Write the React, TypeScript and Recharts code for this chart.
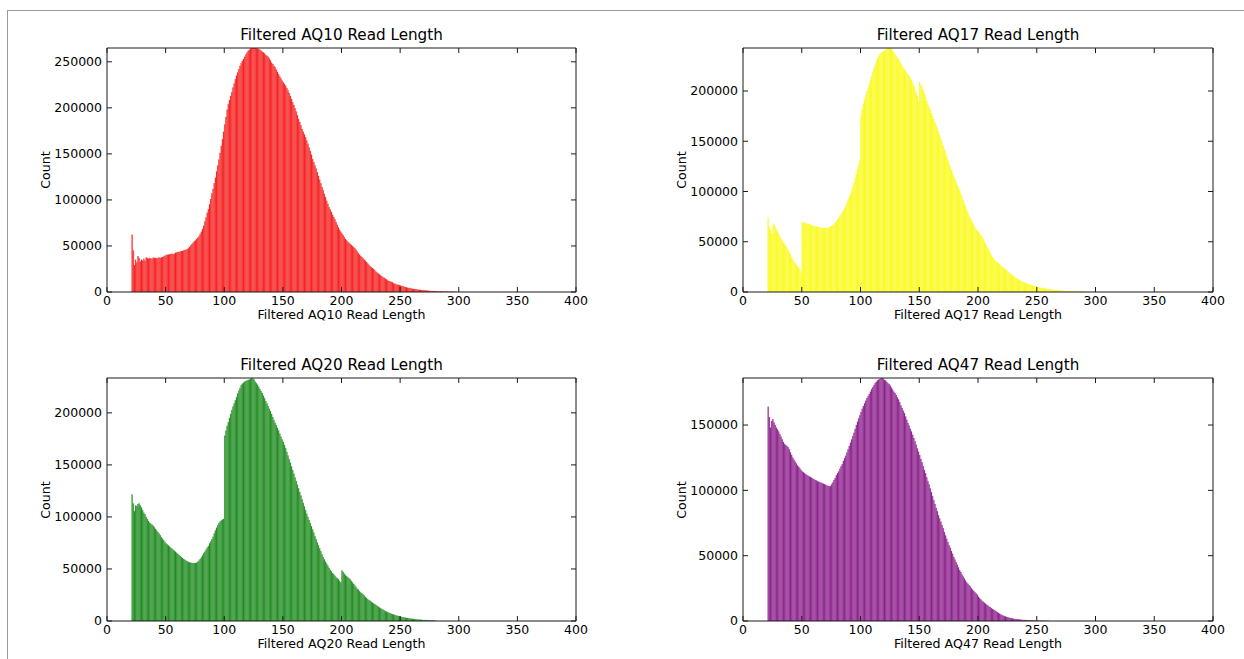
import React from 'react';
import { BarChart, Bar, XAxis, YAxis } from 'recharts';

// Read lengths start at 21; counts are in thousands, one value per 1-bp bin
const aq10Start = 21;
const aq10Counts = [
  62.3, 45, 29, 35, 32, 39, 37, 33, 35, 34,
  36, 34, 37.5, 37, 36, 37, 36.5, 36, 37.5, 37,
  37, 36.5, 37, 37.5, 37, 37.5, 38, 38.5, 39.5, 40,
  40.5, 40.5, 41, 41, 41.5, 41, 41.5, 42.5, 43, 43.5,
  43.5, 44, 44.5, 44.5, 45, 45.5, 46, 46.5, 47.5, 49,
  50.5, 52, 53.5, 55, 56, 57.5, 59, 60.5, 63, 65.5,
  68.5, 72, 76.5, 81, 86, 90, 95, 101, 107, 112,
  118, 124, 131, 137.5, 144, 151, 158.5, 166, 174, 182,
  190, 198, 204, 208.5, 213, 217, 222, 226.5, 231, 235,
  238.5, 242, 245.5, 248.5, 251, 253, 255.5, 258, 260, 262,
  263, 264.5, 265, 265, 265, 265, 264.5, 264.5, 264, 263,
  262, 261, 260, 259, 257.5, 256.5, 255.5, 253.5, 251.5, 249,
  247.5, 245.5, 244, 241.5, 239, 236.5, 234, 232, 229.5, 227.5,
  226, 224, 221.5, 219, 216, 213, 209.5, 206, 203, 199.5,
  196, 192, 188, 184.5, 181, 177, 174, 171, 168, 164.5,
  161, 157, 153, 149, 144.5, 141, 137.5, 134, 130, 126,
  122, 118, 114, 110.5, 106.5, 103, 99, 95.5, 92, 89.5,
  87, 84, 81.5, 79, 76, 73, 70, 67.5, 65.5, 63.5,
  61.5, 59.5, 57.5, 56, 54.5, 53.5, 52, 51, 50, 48.5,
  47.5, 46, 44, 42, 40.5, 39, 38, 36.5, 35, 34,
  32.5, 31, 29.5, 28, 27, 26, 25, 23.5, 22, 21,
  20, 19, 18, 17, 16, 15.5, 14.5, 13.5, 12.5, 12,
  11.5, 11, 10.5, 9.5, 9, 8.5, 8, 7.8, 7.4, 7,
  6.6, 6.2, 5.8, 5.4, 5, 4.7, 4.4, 4.1, 3.8, 3.5,
  3.3, 3.1, 2.9, 2.7, 2.5, 2.35, 2.2, 2.05, 1.9, 1.8,
  1.65, 1.5, 1.4, 1.3, 1.2, 1.1, 1.0, 0.95, 0.85, 0.8,
  0.72, 0.65, 0.6, 0.55, 0.5, 0.45, 0.4, 0.36, 0.33, 0.3,
  0.26, 0.23, 0.2, 0.17, 0.15, 0.12, 0.1,
];

const aq17Start = 21;
const aq17Counts = [
  74, 65, 62, 58, 66, 67.5, 65, 62, 60, 58,
  56, 53, 51, 49, 47.5, 46, 44, 41.5, 39.5, 37,
  34.5, 32, 30, 28.5, 27, 25.5, 24, 22.5, 19, 69.5,
  69, 68.5, 68.3, 68, 67.7, 67.5, 67, 66.5, 66, 65.5,
  65.2, 65, 64.7, 64.4, 64.2, 64, 63.8, 63.7, 63.6, 63.6,
  63.7, 64, 64.3, 65, 65.7, 66.5, 67.5, 68.8, 70.3, 72,
  73.7, 75.5, 77.5, 79, 81, 83.5, 86, 89, 91.5, 94.5,
  97.5, 101, 104.5, 108.5, 113, 117.5, 122, 126.5, 131, 175.5,
  182, 187, 191.5, 195.5, 199.5, 203.5, 207, 211, 215, 219,
  222.5, 226, 229, 232, 234.5, 236.5, 237.5, 238.5, 239.5, 240.3,
  241, 241.8, 242.5, 242.8, 242.3, 241.5, 240, 238.5, 236.5, 234.5,
  233, 231.5, 229.5, 227, 225, 223, 221.5, 220, 218, 216.5,
  215, 213, 210.5, 208, 205, 202, 198.5, 195, 189, 209,
  206, 204, 201, 197.5, 194, 190.5, 187, 184, 181, 178,
  175, 172, 169, 166, 163, 159.5, 156, 152.5, 149, 145.5,
  142, 138.5, 135, 131, 127.5, 124.5, 121.5, 118.5, 115.5, 112.5,
  109.5, 106.5, 104, 101, 98, 95, 91.5, 88, 85, 82,
  79, 76, 74, 71.5, 69, 67, 64.5, 62.5, 61, 60,
  58, 56.5, 55, 53, 50.5, 48, 46, 43.5, 41, 39,
  36.5, 34.5, 33, 31.5, 30.5, 29.5, 28.5, 27.5, 26.5, 25.5,
  24.5, 23.5, 22.5, 21.5, 20.5, 19.5, 18.5, 17.5, 16.5, 15.5,
  14.8, 14, 13.2, 12.5, 11.8, 11.2, 10.6, 10, 9.5, 9,
  8.5, 8, 7.6, 7.2, 6.8, 6.4, 6, 5.7, 5.4, 5.1,
  4.8, 4.5, 4.2, 4, 3.7, 3.5, 3.3, 3.1, 2.9, 2.7,
  2.5, 2.35, 2.2, 2.05, 1.9, 1.75, 1.6, 1.5, 1.4, 1.3,
  1.2, 1.1, 1.0, 0.93, 0.86, 0.8, 0.74, 0.68, 0.62, 0.57,
  0.52, 0.47, 0.43, 0.39, 0.35, 0.32, 0.29, 0.26, 0.23, 0.2,
];

const aq20Start = 21;
const aq20Counts = [
  121.5, 113, 105.5, 111, 110.5, 112.5, 113, 111, 109, 106.5,
  104, 102.5, 100, 98, 96, 94.5, 93.5, 92.5, 91.5, 90,
  88.5, 87, 85.5, 84, 82.5, 80.5, 79, 77.5, 76, 74.5,
  73.5, 72.5, 71.5, 70.5, 69.5, 68.5, 67.5, 66.5, 65.5, 64.5,
  63.5, 62.5, 61.5, 60.5, 59.5, 58.8, 58, 57.3, 56.8, 56.3,
  56, 55.8, 55.6, 55.6, 55.7, 56, 57, 58, 59.5, 61,
  63, 65, 66.5, 68.5, 70.5, 72, 74.5, 76.5, 78.5, 81,
  84, 87, 89.5, 92, 94, 95.5, 96.5, 97.3, 98, 178,
  183, 187.5, 191, 195, 199, 202.5, 206, 209, 212, 215,
  218.5, 221.5, 224, 226.5, 228, 229, 230, 230.5, 231, 231.5,
  232, 232.5, 233.5, 233, 232, 230, 228.5, 227, 225, 223,
  221, 219, 216.5, 214, 211.5, 209, 206.5, 204, 201.5, 199,
  196, 193, 190.5, 188, 185.5, 183, 180, 177, 174.5, 172,
  169, 166, 162.5, 159, 155.5, 152, 148.5, 145, 141.5, 138,
  134.5, 131, 127.5, 124, 120.5, 117, 113.5, 110, 106.5, 103,
  100, 97, 94, 91, 88, 85, 81.5, 78.5, 75.5, 72.5,
  70, 67, 64, 61.5, 59, 57, 55, 53, 51, 49,
  47.5, 46, 45, 43.5, 42, 41, 40, 38.5, 37, 48.5,
  47, 45.5, 44, 43, 42, 41, 40, 38.5, 37, 35.5,
  34, 32.5, 31, 30, 28.5, 27.5, 26.5, 25.5, 24.5, 23,
  22, 21, 20, 19.5, 18.5, 17.5, 16.8, 16, 15.3, 14.5,
  13.7, 13, 12.2, 11.5, 10.8, 10.2, 9.6, 9, 8.5, 8,
  7.5, 7, 6.6, 6.2, 5.8, 5.4, 5.1, 4.8, 4.5, 4.2,
  3.9, 3.6, 3.4, 3.2, 3, 2.8, 2.6, 2.4, 2.2, 2.05,
  1.9, 1.75, 1.6, 1.5, 1.4, 1.3, 1.2, 1.1, 1.0, 0.92,
  0.84, 0.76, 0.68, 0.6, 0.54, 0.48, 0.42, 0.37, 0.32, 0.28,
];

const aq47Start = 21;
const aq47Counts = [
  164, 156, 148, 153, 154.5, 152, 150, 148, 146.5, 145,
  143, 141, 139, 137, 135.5, 134.5, 134, 133, 131.5, 129,
  127, 125, 123.5, 122, 120.5, 119, 118, 117, 115.5, 114.5,
  113.8, 113, 112.3, 111.7, 111.2, 110.7, 110.2, 109.6, 109, 108.5,
  108, 107.6, 107, 106.6, 106.2, 105.8, 105.4, 105, 104.6, 104.2,
  103.8, 103.3, 103, 103.2, 104.5, 106, 108, 109.5, 111.5, 113,
  114.5, 116.5, 118.5, 120, 122.5, 124.5, 126.5, 129, 131.5, 134,
  136.5, 139, 141.5, 144, 147, 150, 152.5, 155, 157.5, 160,
  162.5, 164.5, 166.5, 168.5, 170.5, 172, 173.7, 175.5, 177.3, 179,
  180.5, 182, 183, 184, 184.7, 185.3, 185.8, 186, 185.5, 184.5,
  184, 183, 182, 181.3, 180, 178.5, 177, 175.5, 174.5, 173,
  171, 169.5, 167.5, 165, 163, 161, 159, 156.5, 154, 151.5,
  149.5, 147, 145, 142.5, 140, 137.5, 135, 132, 129.5, 127,
  124, 121.5, 118.5, 115.5, 113, 110, 107, 104.5, 101.5, 98.5,
  95.5, 92.5, 89.5, 86.5, 84, 81, 78.5, 76, 73.5, 71,
  68, 65.5, 63, 60.5, 58, 56, 53.5, 51.5, 49, 47,
  45, 43, 41, 39, 37.5, 35.5, 34, 32.5, 31, 29.5,
  28.5, 27.5, 26.5, 25, 24, 23, 22, 21, 20, 18.5,
  17.5, 16.5, 15.5, 14.7, 14, 13.2, 12.5, 11.8, 11, 10.5,
  9.8, 9.2, 8.6, 8, 7.4, 6.8, 6.2, 5.6, 5, 4.5,
  4.1, 3.7, 3.4, 3.1, 2.8, 2.5, 2.3, 2.1, 1.9, 1.7,
  1.55, 1.4, 1.3, 1.2, 1.1, 1.0, 0.9, 0.82, 0.75, 0.68,
  0.62, 0.56, 0.5, 0.45, 0.4, 0.36, 0.32, 0.29, 0.26, 0.23,
  0.2, 0.18, 0.16, 0.14, 0.12, 0.1, 0.09, 0.08, 0.07, 0.06,
];

const xTicks = [0, 50, 100, 150, 200, 250, 300, 350, 400];
const yTicks250 = [0, 50000, 100000, 150000, 200000, 250000];
const yTicks200 = [0, 50000, 100000, 150000, 200000];
const yTicks150 = [0, 50000, 100000, 150000];

const FONT = '"DejaVu Sans", "Liberation Sans", sans-serif';

type Row = { len: number; count: number };

const buildRows = (start: number, countsK: number[]): Row[] =>
  countsK.map((k, i) => ({ len: start + i + 0.5, count: Math.round(k * 1000) }));

const axisStroke = { stroke: '#1a1a1a', strokeWidth: 1 };
const tickFont = { fill: '#000', fontSize: 12.5, fontFamily: FONT };
const blank = () => '';

interface PanelProps {
  title: string;
  rows: Row[];
  yTicks: number[];
  fill: string;
  edge: string;
  left: number;
  top: number;
  plotW: number;
  plotH: number;
}

const Panel: React.FC<PanelProps> = ({ title, rows, yTicks, fill, edge, left, top, plotW, plotH }) => {
  const yMax = Math.max(...rows.map((r) => r.count));
  // 100px left of the plot for labels, 25px right so the "400" label fits
  const W = plotW + 125;
  const H = plotH + 75;

  return (
    <div style={{ position: 'absolute', left: left - 100, top: top - 40, width: W, height: H }}>
      <BarChart
        width={W}
        height={H}
        data={rows}
        margin={{ top: 39, right: 24, bottom: 0, left: 40 }}
        barCategoryGap={0}
        barGap={0}
      >
        <XAxis
          xAxisId="b"
          type="number"
          dataKey="len"
          domain={[0, 400]}
          ticks={xTicks}
          interval={0}
          height={35}
          tickSize={-5}
          tickMargin={9}
          axisLine={axisStroke}
          tickLine={axisStroke}
          tick={tickFont}
          allowDataOverflow
        />
        <XAxis
          xAxisId="t"
          orientation="top"
          type="number"
          dataKey="len"
          domain={[0, 400]}
          ticks={xTicks}
          interval={0}
          height={1}
          tickSize={-5}
          tickFormatter={blank}
          axisLine={axisStroke}
          tickLine={axisStroke}
          allowDataOverflow
        />
        <YAxis
          yAxisId="l"
          type="number"
          domain={[0, yMax]}
          ticks={yTicks}
          interval={0}
          width={60}
          tickSize={-5}
          tickMargin={10}
          axisLine={axisStroke}
          tickLine={axisStroke}
          tick={tickFont}
          allowDataOverflow
        />
        <YAxis
          yAxisId="r"
          orientation="right"
          type="number"
          domain={[0, yMax]}
          ticks={yTicks}
          interval={0}
          width={1}
          tickSize={-5}
          tickFormatter={blank}
          axisLine={axisStroke}
          tickLine={axisStroke}
          allowDataOverflow
        />
        <Bar
          xAxisId="b"
          yAxisId="l"
          dataKey="count"
          fill={fill}
          stroke={edge}
          strokeWidth={0.2}
          isAnimationActive={false}
        />
      </BarChart>
      <div
        style={{
          position: 'absolute',
          left: 100,
          top: 40 - 13 - 7.5,
          width: plotW,
          textAlign: 'center',
          fontFamily: FONT,
          fontSize: 15.2,
          lineHeight: '15.2px',
          color: '#000',
          whiteSpace: 'nowrap',
        }}
      >
        {title}
      </div>
      <div
        style={{
          position: 'absolute',
          left: 100,
          top: 40 + plotH + 16.5,
          width: plotW,
          textAlign: 'center',
          fontFamily: FONT,
          fontSize: 12.6,
          lineHeight: '12.6px',
          color: '#000',
          whiteSpace: 'nowrap',
        }}
      >
        {title}
      </div>
      <div
        style={{
          position: 'absolute',
          left: 100 - 61,
          top: 40 + plotH / 2,
          transform: 'translate(-50%, -50%) rotate(-90deg)',
          fontFamily: FONT,
          fontSize: 12.6,
          lineHeight: '12.6px',
          color: '#000',
          whiteSpace: 'nowrap',
        }}
      >
        Count
      </div>
    </div>
  );
};

const App: React.FC = () => {
  return (
    <div
      style={{
        position: 'absolute',
        left: 0,
        top: 0,
        width: 1244,
        height: 659,
        background: '#fff',
        overflow: 'hidden',
      }}
    >
      <div
        style={{
          position: 'absolute',
          left: 7,
          top: 10,
          width: 1244 - 7,
          height: 659 - 10,
          borderTop: '1px solid #9a9a9a',
          borderLeft: '1px solid #9a9a9a',
        }}
      />
      <Panel
        title="Filtered AQ10 Read Length"
        rows={buildRows(aq10Start, aq10Counts)}
        yTicks={yTicks250}
        fill="#ff2626"
        edge="#e01818"
        left={107}
        top={48}
        plotW={469}
        plotH={244}
      />
      <Panel
        title="Filtered AQ17 Read Length"
        rows={buildRows(aq17Start, aq17Counts)}
        yTicks={yTicks200}
        fill="#ffff26"
        edge="#eeee18"
        left={743}
        top={48}
        plotW={470}
        plotH={244}
      />
      <Panel
        title="Filtered AQ20 Read Length"
        rows={buildRows(aq20Start, aq20Counts)}
        yTicks={yTicks200}
        fill="#269326"
        edge="#1a821a"
        left={107}
        top={378}
        plotW={469}
        plotH={243}
      />
      <Panel
        title="Filtered AQ47 Read Length"
        rows={buildRows(aq47Start, aq47Counts)}
        yTicks={yTicks150}
        fill="#932693"
        edge="#821a82"
        left={743}
        top={378}
        plotW={470}
        plotH={243}
      />
    </div>
  );
};

export default App;
